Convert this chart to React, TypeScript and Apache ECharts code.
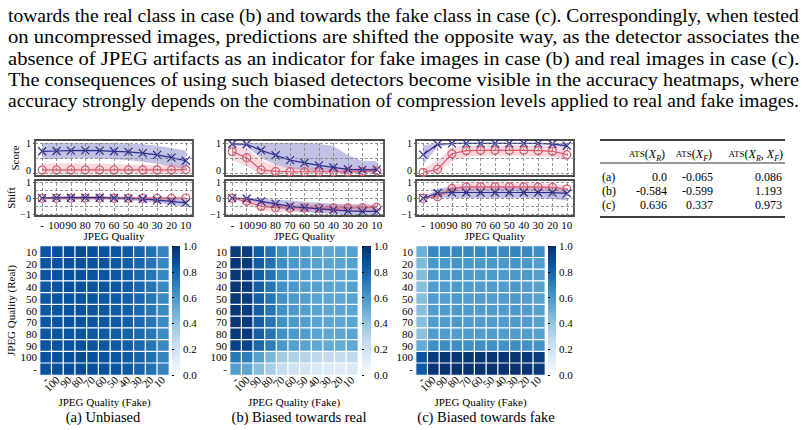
import React, { useEffect, useRef } from 'react';
import * as echarts from 'echarts';

// ---------- text ----------
const paragraphLines = [
  'towards the real class in case (b) and towards the fake class in case (c). Correspondingly, when tested',
  'on uncompressed images, predictions are shifted the opposite way, as the detector associates the',
  'absence of JPEG artifacts as an indicator for fake images in case (b) and real images in case (c).',
  'The consequences of using such biased detectors become visible in the accuracy heatmaps, where',
  'accuracy strongly depends on the combination of compression levels applied to real and fake images.',
];
const captions = ['(a) Unbiased', '(b) Biased towards real', '(c) Biased towards fake'];

// ---------- axes ----------
const qualities = ['-', '100', '90', '80', '70', '60', '50', '40', '30', '20', '10'];
const heatRows = ['10', '20', '30', '40', '50', '60', '70', '80', '90', '100', '-'];
const scoreTopTicks = [1];
const scoreBottomTicks = [0];
const shiftTicks = [-1, 0, 1];
const scoreGridValues = [0, 0.5, 1];
const shiftGridValues = [-1, -0.5, 0, 0.5, 1];

// ---------- panel (a) ----------
const aScoreFake = [0.73, 0.74, 0.75, 0.76, 0.75, 0.73, 0.71, 0.67, 0.61, 0.52, 0.42];
const aScoreFakeLo = [0.47, 0.48, 0.49, 0.5, 0.49, 0.47, 0.44, 0.39, 0.32, 0.23, 0.13];
const aScoreFakeHi = [1.0, 1.0, 1.0, 1.0, 1.0, 1.0, 0.98, 0.96, 0.91, 0.84, 0.75];
const aScoreReal = [0.12, 0.12, 0.12, 0.12, 0.12, 0.12, 0.12, 0.12, 0.12, 0.12, 0.13];
const aScoreRealLo = [0, 0, 0, 0, 0, 0, 0, 0, 0, 0, 0];
const aScoreRealHi = [0.33, 0.33, 0.33, 0.32, 0.32, 0.31, 0.3, 0.29, 0.28, 0.27, 0.27];
const aShiftFake = [0, 0.02, 0.03, 0.04, 0.03, 0.01, -0.01, -0.05, -0.12, -0.2, -0.3];
const aShiftFakeLo = [-0.05, -0.08, -0.08, -0.08, -0.09, -0.1, -0.13, -0.19, -0.29, -0.41, -0.55];
const aShiftFakeHi = [0.05, 0.11, 0.13, 0.14, 0.13, 0.11, 0.09, 0.06, 0.02, -0.01, -0.06];
const aShiftReal = [0, 0, 0, 0.01, 0.01, 0, 0, 0, 0, 0, 0.01];
const aShiftRealLo = [-0.05, -0.1, -0.1, -0.1, -0.1, -0.1, -0.1, -0.1, -0.1, -0.1, -0.1];
const aShiftRealHi = [0.05, 0.1, 0.1, 0.1, 0.1, 0.1, 0.1, 0.1, 0.1, 0.11, 0.12];

// ---------- panel (b) ----------
const bScoreFake = [0.97, 0.96, 0.76, 0.6, 0.44, 0.35, 0.27, 0.2, 0.14, 0.12, 0.13];
const bScoreFakeLo = [0.92, 0.88, 0.5, 0.3, 0.16, 0.1, 0.06, 0.04, 0.03, 0.03, 0.04];
const bScoreFakeHi = [1.0, 1.0, 1.0, 1.0, 1.0, 1.0, 0.97, 0.9, 0.6, 0.42, 0.4];
const bScoreReal = [0.72, 0.52, 0.12, 0.07, 0.06, 0.06, 0.06, 0.06, 0.06, 0.07, 0.09];
const bScoreRealLo = [0.45, 0.22, 0, 0, 0, 0, 0, 0, 0, 0, 0];
const bScoreRealHi = [0.9, 0.85, 0.42, 0.28, 0.22, 0.2, 0.19, 0.18, 0.17, 0.18, 0.2];
const bShiftFake = [0, -0.02, -0.2, -0.36, -0.52, -0.6, -0.68, -0.74, -0.8, -0.83, -0.83];
const bShiftFakeLo = [0, -0.1, -0.42, -0.62, -0.78, -0.86, -0.93, -0.98, -1.02, -1.04, -1.04];
const bShiftFakeHi = [0, 0.03, -0.03, -0.08, -0.15, -0.22, -0.28, -0.33, -0.38, -0.42, -0.45];
const bShiftReal = [0, -0.2, -0.52, -0.6, -0.62, -0.62, -0.62, -0.62, -0.61, -0.6, -0.57];
const bShiftRealLo = [0, -0.38, -0.78, -0.86, -0.88, -0.88, -0.88, -0.88, -0.87, -0.86, -0.82];
const bShiftRealHi = [0, -0.06, -0.28, -0.36, -0.38, -0.38, -0.38, -0.37, -0.36, -0.35, -0.33];

// ---------- panel (c) ----------
const cScoreFake = [0.62, 0.96, 0.99, 0.99, 0.99, 0.99, 0.99, 0.99, 0.99, 0.97, 0.91];
const cScoreFakeLo = [0.3, 0.88, 0.96, 0.97, 0.97, 0.97, 0.97, 0.97, 0.96, 0.93, 0.82];
const cScoreFakeHi = [0.92, 1.0, 1.0, 1.0, 1.0, 1.0, 1.0, 1.0, 1.0, 1.0, 1.0];
const cScoreReal = [0.04, 0.14, 0.65, 0.75, 0.76, 0.76, 0.76, 0.76, 0.75, 0.73, 0.62];
const cScoreRealLo = [0, 0, 0.42, 0.56, 0.58, 0.58, 0.58, 0.58, 0.57, 0.54, 0.42];
const cScoreRealHi = [0.15, 0.42, 0.86, 0.92, 0.93, 0.93, 0.93, 0.93, 0.92, 0.9, 0.83];
const cShiftFake = [0, 0.33, 0.36, 0.36, 0.36, 0.36, 0.36, 0.36, 0.36, 0.35, 0.3];
const cShiftFakeLo = [0, 0.05, 0.02, 0.02, 0.02, 0.02, 0.02, 0.02, 0.0, -0.05, -0.15];
const cShiftFakeHi = [0, 0.6, 0.72, 0.72, 0.72, 0.72, 0.72, 0.72, 0.72, 0.7, 0.65];
const cShiftReal = [0, 0.09, 0.62, 0.71, 0.72, 0.72, 0.72, 0.72, 0.71, 0.69, 0.58];
const cShiftRealLo = [0, -0.02, 0.36, 0.48, 0.5, 0.5, 0.5, 0.5, 0.49, 0.46, 0.35];
const cShiftRealHi = [0, 0.22, 0.88, 0.95, 0.96, 0.96, 0.96, 0.96, 0.95, 0.92, 0.82];

// ---------- heatmaps (rows: Real 10..100,-, cols: Fake -,100..10) ----------
const heatA = [
  [0.86, 0.88, 0.89, 0.89, 0.88, 0.87, 0.86, 0.84, 0.8, 0.75, 0.68],
  [0.86, 0.87, 0.88, 0.88, 0.87, 0.86, 0.85, 0.83, 0.79, 0.74, 0.67],
  [0.86, 0.87, 0.88, 0.88, 0.87, 0.86, 0.85, 0.83, 0.79, 0.74, 0.67],
  [0.85, 0.87, 0.88, 0.87, 0.86, 0.86, 0.85, 0.83, 0.79, 0.74, 0.66],
  [0.85, 0.87, 0.87, 0.87, 0.86, 0.85, 0.84, 0.82, 0.79, 0.74, 0.66],
  [0.85, 0.86, 0.87, 0.87, 0.86, 0.85, 0.84, 0.82, 0.78, 0.73, 0.66],
  [0.85, 0.86, 0.87, 0.87, 0.86, 0.85, 0.84, 0.82, 0.78, 0.73, 0.65],
  [0.85, 0.86, 0.86, 0.86, 0.85, 0.84, 0.83, 0.81, 0.78, 0.73, 0.65],
  [0.86, 0.87, 0.87, 0.87, 0.86, 0.85, 0.84, 0.82, 0.79, 0.74, 0.66],
  [0.87, 0.88, 0.89, 0.89, 0.88, 0.87, 0.86, 0.84, 0.8, 0.75, 0.68],
  [0.87, 0.88, 0.89, 0.89, 0.88, 0.87, 0.86, 0.84, 0.8, 0.75, 0.68],
];
const heatB = [
  [0.96, 0.95, 0.83, 0.75, 0.64, 0.6, 0.58, 0.56, 0.55, 0.55, 0.56],
  [0.97, 0.96, 0.83, 0.75, 0.64, 0.6, 0.58, 0.56, 0.55, 0.55, 0.56],
  [0.97, 0.96, 0.83, 0.75, 0.64, 0.6, 0.58, 0.56, 0.55, 0.55, 0.56],
  [0.97, 0.96, 0.82, 0.74, 0.63, 0.6, 0.57, 0.56, 0.55, 0.54, 0.56],
  [0.97, 0.96, 0.82, 0.74, 0.63, 0.59, 0.57, 0.55, 0.54, 0.54, 0.55],
  [0.97, 0.96, 0.82, 0.74, 0.63, 0.59, 0.57, 0.55, 0.54, 0.54, 0.55],
  [0.97, 0.96, 0.82, 0.74, 0.63, 0.59, 0.57, 0.55, 0.54, 0.54, 0.55],
  [0.96, 0.96, 0.82, 0.74, 0.63, 0.59, 0.57, 0.55, 0.54, 0.54, 0.55],
  [0.93, 0.92, 0.79, 0.71, 0.6, 0.57, 0.55, 0.53, 0.52, 0.52, 0.53],
  [0.72, 0.7, 0.56, 0.46, 0.36, 0.33, 0.3, 0.27, 0.25, 0.24, 0.26],
  [0.57, 0.54, 0.43, 0.34, 0.24, 0.21, 0.18, 0.15, 0.13, 0.12, 0.14],
];
const heatC = [
  [0.5, 0.66, 0.66, 0.67, 0.66, 0.66, 0.66, 0.66, 0.68, 0.66, 0.64],
  [0.45, 0.6, 0.6, 0.61, 0.6, 0.6, 0.6, 0.6, 0.61, 0.6, 0.58],
  [0.44, 0.59, 0.59, 0.6, 0.59, 0.59, 0.59, 0.59, 0.6, 0.59, 0.57],
  [0.43, 0.58, 0.58, 0.59, 0.58, 0.58, 0.58, 0.58, 0.59, 0.58, 0.56],
  [0.43, 0.58, 0.58, 0.59, 0.58, 0.58, 0.58, 0.58, 0.59, 0.58, 0.56],
  [0.43, 0.58, 0.58, 0.59, 0.58, 0.58, 0.58, 0.58, 0.59, 0.58, 0.56],
  [0.43, 0.58, 0.58, 0.59, 0.58, 0.58, 0.58, 0.58, 0.59, 0.58, 0.56],
  [0.42, 0.58, 0.58, 0.58, 0.58, 0.58, 0.58, 0.58, 0.58, 0.58, 0.56],
  [0.52, 0.64, 0.64, 0.64, 0.63, 0.64, 0.63, 0.63, 0.64, 0.63, 0.62],
  [0.86, 0.96, 0.98, 0.98, 0.98, 0.98, 0.98, 0.98, 0.98, 0.97, 0.95],
  [0.84, 0.98, 0.99, 0.99, 0.99, 0.99, 0.99, 0.99, 0.99, 0.98, 0.96],
];

// ---------- table ----------
const tableRowLabels = ['(a)', '(b)', '(c)'];
const tableAtsR = ['0.0', '-0.584', '0.636'];
const tableAtsF = ['-0.065', '-0.599', '0.337'];
const tableAtsRF = ['0.086', '1.193', '0.973'];

// ---------- styling ----------
const FONT = 'Liberation Serif';
const BLUES = ['#f7fbff', '#deebf7', '#c6dbef', '#9ecae1', '#6baed6', '#4292c6', '#2171b5', '#08519c', '#08306b'];
const FAKE_C = '#2a2a8f';
const REAL_C = '#dc5a6c';
const FAKE_BAND = 'rgba(95,95,185,0.38)';
const REAL_BAND = 'rgba(232,120,140,0.28)';
const FRAME = '#4a4a4a';

const lineLeft = [35, 225, 416];
const lineWidth = [158, 159, 158];
const heatLeft = [40, 230, 416];
const heatWidth = [129, 128, 129];
const cbLeft = [172, 362, 548];
const cbWidth = [8, 9, 8];
const captionX = [103, 299, 486];

const SCORE_MIN = -0.08;
const SCORE_MAX = 1.1;
const SHIFT_MIN = -1.125;
const SHIFT_MAX = 1.15;

const panels = [
  {
    score: [aScoreFake, aScoreFakeLo, aScoreFakeHi, aScoreReal, aScoreRealLo, aScoreRealHi],
    shift: [aShiftFake, aShiftFakeLo, aShiftFakeHi, aShiftReal, aShiftRealLo, aShiftRealHi],
    heat: heatA,
  },
  {
    score: [bScoreFake, bScoreFakeLo, bScoreFakeHi, bScoreReal, bScoreRealLo, bScoreRealHi],
    shift: [bShiftFake, bShiftFakeLo, bShiftFakeHi, bShiftReal, bShiftRealLo, bShiftRealHi],
    heat: heatB,
  },
  {
    score: [cScoreFake, cScoreFakeLo, cScoreFakeHi, cScoreReal, cScoreRealLo, cScoreRealHi],
    shift: [cShiftFake, cShiftFakeLo, cShiftFakeHi, cShiftReal, cShiftRealLo, cShiftRealHi],
    heat: heatC,
  },
];

function bandPair(ax: number, lo: number[], hi: number[], color: string, stackId: string, markLine?: any) {
  const base: any = {
    type: 'line',
    xAxisIndex: ax,
    yAxisIndex: ax,
    stack: stackId,
    stackStrategy: 'all',
    symbol: 'none',
    silent: true,
    lineStyle: { width: 0, opacity: 0 },
    z: 1,
  };
  const s1: any = { ...base, data: lo };
  if (markLine) s1.markLine = markLine;
  const s2: any = { ...base, data: hi.map((h, i) => h - lo[i]), areaStyle: { color, opacity: 1 } };
  return [s1, s2];
}

function meanLines(ax: number, fake: number[], real: number[]) {
  return [
    {
      type: 'line',
      xAxisIndex: ax,
      yAxisIndex: ax,
      data: real,
      symbol: 'circle',
      symbolSize: 8,
      silent: true,
      lineStyle: { color: REAL_C, width: 1.2 },
      itemStyle: { color: 'transparent', borderColor: REAL_C, borderWidth: 1.2 },
      z: 3,
    },
    {
      type: 'line',
      xAxisIndex: ax,
      yAxisIndex: ax,
      data: fake,
      symbol: 'path://M0 0L10 10M10 0L0 10',
      symbolSize: 8,
      silent: true,
      lineStyle: { color: FAKE_C, width: 1.2 },
      itemStyle: { color: 'transparent', borderColor: FAKE_C, borderWidth: 1.2 },
      z: 4,
    },
  ];
}

function gridMarkLine(values: number[]) {
  return {
    silent: true,
    symbol: 'none',
    label: { show: false },
    lineStyle: { type: [3, 2], color: '#7a7a7a', width: 0.8 },
    data: [...qualities.map((q) => ({ xAxis: q })), ...values.map((v) => ({ yAxis: v }))],
  };
}

function measure(text: string, font: string) {
  const c = document.createElement('canvas').getContext('2d');
  if (!c) return 792;
  c.font = font;
  return c.measureText(text).width;
}

function buildOption() {
  const grid: any[] = [];
  const xAxis: any[] = [];
  const yAxis: any[] = [];
  const extraY: any[] = [];
  const series: any[] = [];
  const graphic: any[] = [];
  const heatSeriesIdx: number[] = [];
  const lab = { fontFamily: FONT, color: '#000', fontSize: 11 };
  const frame = { show: true, borderColor: FRAME, borderWidth: 1.8, backgroundColor: 'transparent', containLabel: false, outerBoundsMode: 'none' };
  const noAxisLine = { axisLine: { show: false }, splitLine: { show: false } };

  panels.forEach((p, pi) => {
    const sAx = pi * 4;
    const hAx = pi * 4 + 1;
    const mAx = pi * 4 + 2;
    const cAx = pi * 4 + 3;
    grid.push({ left: lineLeft[pi], width: lineWidth[pi], top: 140, height: 36, ...frame });
    grid.push({ left: lineLeft[pi], width: lineWidth[pi], top: 180, height: 36, ...frame });
    grid.push({ left: heatLeft[pi], width: heatWidth[pi], top: 246, height: 129, show: false, containLabel: false, outerBoundsMode: 'none' });
    grid.push({ left: cbLeft[pi], width: cbWidth[pi], top: 246, height: 129, show: false, containLabel: false, outerBoundsMode: 'none' });

    xAxis.push({ type: 'category', gridIndex: sAx, data: qualities, boundaryGap: true, axisLabel: { show: false }, axisTick: { show: false }, ...noAxisLine });
    xAxis.push({
      type: 'category', gridIndex: hAx, data: qualities, boundaryGap: true,
      axisLabel: { ...lab, interval: 0, margin: 3 }, axisTick: { show: false }, ...noAxisLine,
      name: 'JPEG Quality', nameLocation: 'middle', nameGap: 10, nameTextStyle: { ...lab },
    });
    xAxis.push({
      type: 'category', gridIndex: mAx, data: qualities,
      axisLabel: { ...lab, interval: 0, rotate: 45, margin: 3 }, axisTick: { show: false }, ...noAxisLine,
      name: 'JPEG Quality (Fake)', nameLocation: 'middle', nameGap: 14, nameTextStyle: { ...lab },
    });
    xAxis.push({ type: 'value', gridIndex: cAx, show: false, min: 0, max: 1 });

    yAxis.push({
      type: 'value', gridIndex: sAx, position: 'left', min: SCORE_MIN, max: SCORE_MAX,
      axisLabel: { ...lab, fontSize: 10, customValues: scoreTopTicks, margin: 4 },
      axisTick: { show: true, customValues: scoreTopTicks, length: 2, lineStyle: { color: FRAME } },
      ...noAxisLine,
      name: pi === 0 ? 'Score' : '', nameLocation: 'middle', nameGap: 15, nameTextStyle: { ...lab },
    });
    yAxis.push({
      type: 'value', gridIndex: hAx, position: 'left', min: SHIFT_MIN, max: SHIFT_MAX,
      axisLabel: { ...lab, fontSize: 10, customValues: shiftTicks, margin: 4, formatter: (v: number) => (v < 0 ? '\u2212' + Math.abs(v) : String(v)) },
      axisTick: { show: true, customValues: shiftTicks, length: 2, lineStyle: { color: FRAME } },
      ...noAxisLine,
      name: pi === 0 ? 'Shift' : '', nameLocation: 'middle', nameGap: 15, nameTextStyle: { ...lab },
    });
    yAxis.push({
      type: 'category', gridIndex: mAx, data: heatRows, inverse: true,
      axisLabel: { ...lab, interval: 0, margin: 3 }, axisTick: { show: false }, ...noAxisLine,
      name: pi === 0 ? 'JPEG Quality (Real)' : '', nameLocation: 'middle', nameGap: 18, nameTextStyle: { ...lab },
    });
    yAxis.push({
      type: 'value', gridIndex: cAx, min: 0, max: 1, interval: 0.2, position: 'right',
      axisLabel: { ...lab, margin: 3, formatter: (v: number) => v.toFixed(1) },
      axisTick: { show: true, length: 2, lineStyle: { color: '#000' } }, ...noAxisLine,
    });
    // bottom "0" label of the score axis, sitting on the zero line
    extraY.push({
      type: 'value', gridIndex: sAx, position: 'left', min: SCORE_MIN, max: SCORE_MAX,
      axisLabel: { ...lab, fontSize: 10, customValues: scoreBottomTicks, margin: 4, verticalAlign: 'bottom', padding: [0, 0, -2, 0] },
      axisTick: { show: true, customValues: scoreBottomTicks, length: 2, lineStyle: { color: FRAME } },
      ...noAxisLine,
    });

    const [sf, sfl, sfh, sr, srl, srh] = p.score;
    const [hf, hfl, hfh, hr, hrl, hrh] = p.shift;
    series.push(...bandPair(sAx, sfl, sfh, FAKE_BAND, 'sf' + pi, gridMarkLine(scoreGridValues)));
    series.push(...bandPair(sAx, srl, srh, REAL_BAND, 'sr' + pi));
    series.push(...meanLines(sAx, sf, sr));
    series.push(...bandPair(hAx, hfl, hfh, FAKE_BAND, 'hf' + pi, gridMarkLine(shiftGridValues)));
    series.push(...bandPair(hAx, hrl, hrh, REAL_BAND, 'hr' + pi));
    series.push(...meanLines(hAx, hf, hr));

    const data: any[] = [];
    p.heat.forEach((row, ri) => row.forEach((v, ci) => data.push([ci, ri, v])));
    heatSeriesIdx.push(series.length);
    series.push({
      type: 'heatmap', xAxisIndex: mAx, yAxisIndex: mAx, data, silent: true,
      itemStyle: { borderColor: '#ffffff', borderWidth: 1.2 }, emphasis: { disabled: true },
    });

    graphic.push({
      type: 'rect', silent: true, z: 0,
      shape: { x: cbLeft[pi], y: 246, width: cbWidth[pi], height: 129 },
      style: {
        fill: {
          type: 'linear', x: 0, y: 1, x2: 0, y2: 0,
          colorStops: BLUES.map((c, i) => ({ offset: i / (BLUES.length - 1), color: c })),
        },
      },
    });
    graphic.push({
      type: 'text', silent: true, x: captionX[pi], y: 417,
      style: { text: captions[pi], font: `14.5px "${FONT}"`, fill: '#000', textAlign: 'center', textVerticalAlign: 'middle', align: 'center', verticalAlign: 'middle' },
    });
  });
  yAxis.push(...extraY);

  // paragraph
  const pFont = `18px "${FONT}"`;
  const lineY = [16, 37, 59, 80, 101];
  paragraphLines.forEach((t, i) => {
    const w = measure(t, pFont);
    graphic.push({
      type: 'text', silent: true, x: 8, y: lineY[i], scaleX: 792 / w,
      style: { text: t, font: pFont, fill: '#000', textAlign: 'left', textVerticalAlign: 'middle', align: 'left', verticalAlign: 'middle' },
    });
  });

  // table
  const rule = (y: number, w: number) => ({
    type: 'line', silent: true, shape: { x1: 600, y1: y, x2: 785, y2: y }, style: { stroke: '#000', lineWidth: w },
  });
  graphic.push(rule(140, 1.3), rule(163, 0.8), rule(217, 1.3));
  const rich = {
    sc: { fontSize: 9, fontFamily: FONT, lineHeight: 16, fill: '#000' },
    n: { fontSize: 12, fontFamily: FONT, lineHeight: 16, fill: '#000' },
    it: { fontSize: 12, fontFamily: FONT, fontStyle: 'italic', lineHeight: 16, fill: '#000' },
    sub: { fontSize: 8, fontFamily: FONT, fontStyle: 'italic', lineHeight: 8, verticalAlign: 'bottom', fill: '#000' },
  };
  const ats = (subs: string[]) => '{sc|ATS}{n|(}' + subs.map((s) => `{it|X}{sub|${s}}`).join('{n|, }') + '{n|)}';
  const headers = [ats(['R']), ats(['F']), ats(['R', 'F'])];
  const headerX = [665, 712, 783];
  headers.forEach((h, i) => {
    graphic.push({
      type: 'text', silent: true, x: headerX[i], y: 154,
      style: { text: h, rich, textAlign: 'right', textVerticalAlign: 'middle', align: 'right', verticalAlign: 'middle' },
    });
  });
  const rowY = [177, 191, 205];
  const cols = [tableAtsR, tableAtsF, tableAtsRF];
  const colX = [667, 713, 782];
  const tFont = `12px "${FONT}"`;
  tableRowLabels.forEach((r, ri) => {
    graphic.push({ type: 'text', silent: true, x: 602, y: rowY[ri], style: { text: r, font: tFont, fill: '#000', textAlign: 'left', textVerticalAlign: 'middle', align: 'left', verticalAlign: 'middle' } });
    cols.forEach((col, ci) => {
      graphic.push({ type: 'text', silent: true, x: colX[ci], y: rowY[ri], style: { text: col[ri], font: tFont, fill: '#000', textAlign: 'right', textVerticalAlign: 'middle', align: 'right', verticalAlign: 'middle' } });
    });
  });

  return {
    animation: false,
    backgroundColor: '#ffffff',
    textStyle: { fontFamily: FONT, color: '#000' },
    grid,
    xAxis,
    yAxis,
    visualMap: [{ type: 'continuous', show: false, min: 0, max: 1, seriesIndex: heatSeriesIdx, inRange: { color: BLUES } }],
    series,
    graphic,
  };
}

export default function App() {
  const ref = useRef<HTMLDivElement>(null);
  useEffect(() => {
    if (!ref.current) return;
    const chart = echarts.init(ref.current, null, { renderer: 'svg' });
    chart.setOption(buildOption() as any);
    return () => chart.dispose();
  }, []);
  return <div ref={ref} style={{ position: 'absolute', left: 0, top: 0, width: 808, height: 430 }} />;
}
